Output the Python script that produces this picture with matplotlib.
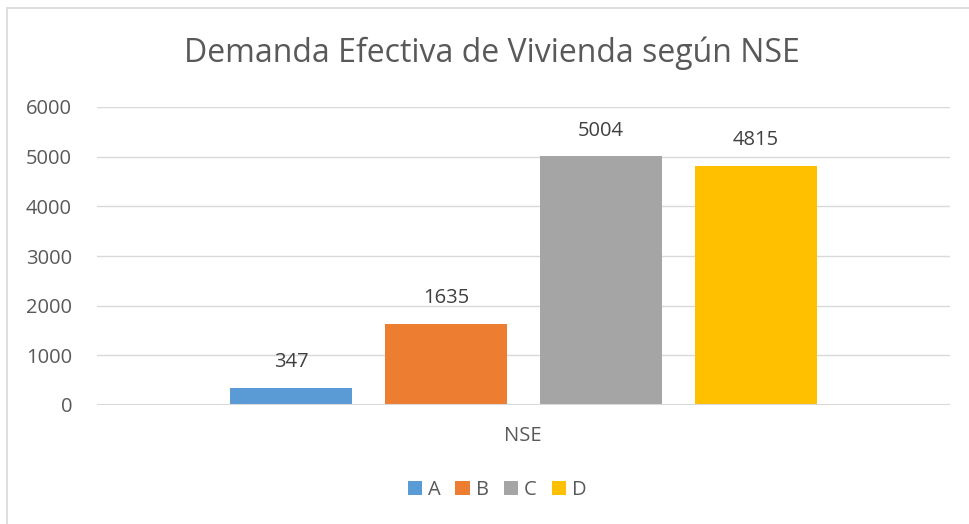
import numpy as np
import matplotlib
matplotlib.use("Agg")
import matplotlib.pyplot as plt
from matplotlib.patches import Rectangle

# data
series = ['A', 'B', 'C', 'D']
values = [347, 1635, 5004, 4815]
colors = ['#5B9BD5', '#ED7D31', '#A5A5A5', '#FFC000']
category = 'NSE'
yticks = [0, 1000, 2000, 3000, 4000, 5000, 6000]

TXT = '#595959'
FS = 14.5
plt.rcParams['font.family'] = ['Open Sans', 'DejaVu Sans']

W, H = 969, 524
fig = plt.figure(figsize=(W / 100, H / 100), dpi=100)
fig.patch.set_facecolor('white')

# light chart border (Excel style)
fig.patches.append(Rectangle((7 / W, -0.01), 1.5, (H - 8) / H + 0.01,
                             transform=fig.transFigure, fill=False,
                             edgecolor='#d9d9d9', lw=1.2))

ax = fig.add_axes([97 / W, (H - 405) / H, 853 / W, (405 - 107) / H])
ax.set_xlim(0, 1)
ax.set_ylim(0, 6000)

width = 0.143
step = 0.1817
for i, (name, v, c) in enumerate(zip(series, values, colors)):
    x = 0.5 + (i - 1.5) * step
    ax.bar(x, v, width=width, color=c, label=name, zorder=3)
    ax.annotate(f"{v}", (x, v), xytext=(0, 18.5), textcoords='offset points',
                ha='center', va='center', fontsize=FS, color='#404040')

ax.set_yticks(yticks)
ax.set_yticklabels([str(t) for t in yticks], fontsize=FS, color=TXT)
ax.tick_params(axis='y', length=0, pad=18)
ax.set_xticks([])
ax.grid(axis='y', color='#d9d9d9', lw=1, zorder=0)
for s in ax.spines.values():
    s.set_visible(False)
ax.axhline(0, color='#d9d9d9', lw=1.5, zorder=4)

fig.text(523 / W, 1 - 436 / H, category, ha='center', va='center',
         fontsize=FS, color=TXT)
fig.text(492 / W, 1 - 53 / H, 'Demanda Efectiva de Vivienda según NSE',
         ha='center', va='center', fontsize=23, color=TXT)

leg = fig.legend(loc='center', bbox_to_anchor=(497 / W, 1 - 490 / H), ncol=4,
                 frameon=False, fontsize=FS, handlelength=0.7,
                 handleheight=0.7, handletextpad=0.3, columnspacing=0.75)
for t in leg.get_texts():
    t.set_color(TXT)

fig.savefig('out.png', dpi=100)
